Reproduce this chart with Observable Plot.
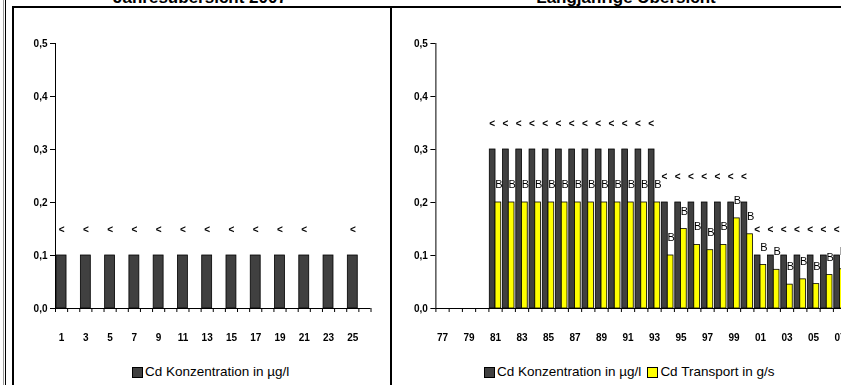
<!DOCTYPE html>
<html><head><meta charset="utf-8">
<script src="https://cdn.jsdelivr.net/npm/d3@7"></script>
<script src="https://cdn.jsdelivr.net/npm/@observablehq/plot@0.6"></script>
<style>
html,body{margin:0;padding:0;background:#fff;overflow:hidden;width:841px;height:385px;}
#wrap{position:relative;width:841px;height:385px;overflow:hidden;font-family:Arial,"Liberation Sans",sans-serif;color:#000;}
.ln{position:absolute;background:#000;}
.title{position:absolute;font-size:17px;font-weight:bold;line-height:17px;white-space:nowrap;transform:translateX(-50%);}
.legend{position:absolute;font-size:13.5px;line-height:14px;white-space:nowrap;display:flex;align-items:center;}
.sw{display:inline-block;width:9px;height:9px;border:1px solid #000;margin-right:2px;}
svg{position:absolute;top:0;will-change:transform;}
</style></head><body><div id="wrap"></div>
<script>
// ---------- data ----------
const leftTitle = "Jahresübersicht 2007";
const rightTitle = "Langjährige Übersicht";
const seriesNames = ["Cd Konzentration in µg/l", "Cd Transport in g/s"];
const seriesColors = ["#404040", "#ffff00"];

const leftCats = ["1","2","3","4","5","6","7","8","9","10","11","12","13","14","15","16","17","18","19","20","21","22","23","24","25","26"];
const leftTickLabels = ["1","3","5","7","9","11","13","15","17","19","21","23","25"];
const leftKonz = [0.1,null,0.1,null,0.1,null,0.1,null,0.1,null,0.1,null,0.1,null,0.1,null,0.1,null,0.1,null,0.1,null,0.1,null,0.1,null];
const leftFlags = ["<","","<","","<","","<","","<","","<","","<","","<","","<","","<","","<","","","","<",""];

const years = ["77","78","79","80","81","82","83","84","85","86","87","88","89","90","91","92","93","94","95","96","97","98","99","00","01","02","03","04","05","06","07"];
const yearTickLabels = ["77","79","81","83","85","87","89","91","93","95","97","99","01","03","05","07"];
const konz = [null,null,null,null,0.3,0.3,0.3,0.3,0.3,0.3,0.3,0.3,0.3,0.3,0.3,0.3,0.3,0.2,0.2,0.2,0.2,0.2,0.2,0.2,0.1,0.1,0.1,0.1,0.1,0.1,0.1];
const trans = [null,null,null,null,0.2,0.2,0.2,0.2,0.2,0.2,0.2,0.2,0.2,0.2,0.2,0.2,0.2,0.10,0.15,0.12,0.11,0.12,0.17,0.14,0.082,0.073,0.045,0.055,0.046,0.063,0.074];
const konzFlags = ["","","","","<","<","<","<","<","<","<","<","<","<","<","<","<","<","<","<","<","<","<","<","<","<","<","<","<","<","<"];
const transFlags = ["","","","","B","B","B","B","B","B","B","B","B","B","B","B","B","B","B","B","B","B","B","B","B","B","B","B","B","B","B"];

const yTicks = [0, 0.1, 0.2, 0.3, 0.4, 0.5];

// ---------- helpers ----------
const wrap = document.getElementById("wrap");
const fmt = d => d.toFixed(1).replace(".", ",");
const FONT = "Arial, 'Liberation Sans', sans-serif";

function frameLine(x, y, w, h, color) {
  const d = document.createElement("div");
  d.className = "ln";
  d.style.left = x + "px"; d.style.top = y + "px";
  d.style.width = w + "px"; d.style.height = h + "px";
  if (color) d.style.background = color;
  wrap.appendChild(d);
}
function title(text, cx) {
  const d = document.createElement("div");
  d.className = "title";
  d.textContent = text;
  d.style.left = cx + "px"; d.style.top = "-11px";
  wrap.appendChild(d);
}
function legend(items, x, y) {
  const d = document.createElement("div");
  d.className = "legend";
  d.style.left = x + "px"; d.style.top = y + "px";
  items.forEach(([name, color], k) => {
    const s = document.createElement("span");
    s.className = "sw"; s.style.background = color;
    if (k > 0) s.style.marginLeft = "6px";
    const t = document.createElement("span");
    t.textContent = name;
    d.appendChild(s); d.appendChild(t);
  });
  wrap.appendChild(d);
}

function axesMarks(cats, tickLabels) {
  const n = cats.length;
  const bounds = d3.range(n + 1).map(i => i - 0.5);
  const labelIdx = tickLabels.map(t => cats.indexOf(t));
  return [
    Plot.ruleY([0], {x1: -0.5, x2: n - 0.5, stroke: "#000"}),
    Plot.ruleX([-0.5], {y1: 0, y2: 0.5, stroke: "#000"}),
    Plot.axisY(yTicks, {label: null, tickSize: 5, tickPadding: 3, tickFormat: fmt, fontSize: 10, fontWeight: "bold", stroke: "#000"}),
    Plot.axisX(bounds, {label: null, tickSize: 4, tickFormat: () => "", stroke: "#000"}),
    Plot.axisX(labelIdx, {label: null, tickSize: 0, tickPadding: 25, tickFormat: i => cats[i], fontSize: 10, fontWeight: "bold"})
  ];
}

// ---------- frame ----------
frameLine(3, 0, 1, 385, "#9a9a9a");
frameLine(5, 0, 1, 385);
frameLine(12, 6, 2, 379);
frameLine(12, 6, 829, 2);
frameLine(390, 6, 2, 379);
title(leftTitle, 200);
title(rightTitle, 626);

// ---------- left panel ----------
const leftData = leftCats.map((c, i) => ({i, konz: leftKonz[i], flag: leftFlags[i]})).filter(d => d.konz != null);
const leftPlot = Plot.plot({
  width: 391, height: 350,
  marginLeft: 55, marginRight: 20.5, marginTop: 43, marginBottom: 42,
  x: {type: "linear", domain: [-0.5, leftCats.length - 0.5], label: null},
  y: {domain: [0, 0.5], label: null},
  style: {fontFamily: FONT, background: "transparent", overflow: "visible", color: "#000"},
  marks: [
    Plot.rect(leftData, {x1: d => d.i - 0.5, x2: d => d.i + 0.5, y1: 0, y2: "konz", fill: seriesColors[0], stroke: "#000", strokeWidth: 0.8, insetLeft: 1.1, insetRight: 1.1}),
    ...axesMarks(leftCats, leftTickLabels),
    Plot.text(leftData.filter(d => d.flag), {x: "i", y: "konz", text: "flag", dy: -26, fontSize: 10, fontWeight: "bold"})
  ]
});
leftPlot.style.left = "0px";
wrap.appendChild(leftPlot);

// ---------- right panel ----------
const rightData = years.map((y, i) => ({i, konz: konz[i], trans: trans[i], kf: konzFlags[i], tf: transFlags[i]})).filter(d => d.konz != null);
const rightPlot = Plot.plot({
  width: 460, height: 350,
  marginLeft: 44.4, marginRight: 4.85, marginTop: 43, marginBottom: 42,
  x: {type: "linear", domain: [-0.5, years.length - 0.5], label: null},
  y: {domain: [0, 0.5], label: null},
  style: {fontFamily: FONT, background: "transparent", overflow: "visible", color: "#000"},
  marks: [
    Plot.rect(rightData, {x1: d => d.i - 0.5, x2: d => d.i, y1: 0, y2: "konz", fill: seriesColors[0], stroke: "#000", strokeWidth: 0.8, insetLeft: 0.9}),
    Plot.rect(rightData, {x1: d => d.i, x2: d => d.i + 0.5, y1: 0, y2: "trans", fill: seriesColors[1], stroke: "#000", strokeWidth: 0.8, insetRight: 0.9}),
    ...axesMarks(years, yearTickLabels),
    Plot.text(rightData.filter(d => d.kf), {x: d => d.i - 0.25, y: "konz", text: "kf", dy: -26, fontSize: 10, fontWeight: "bold"}),
    Plot.text(rightData.filter(d => d.tf), {x: d => d.i + 0.25, y: "trans", text: "tf", dy: -18, fontSize: 11, fontWeight: "normal", fill: "#000"})
  ]
});
rightPlot.style.left = "391px";
wrap.appendChild(rightPlot);

// ---------- legends ----------
legend([[seriesNames[0], seriesColors[0]]], 132, 365);
legend([[seriesNames[0], seriesColors[0]], [seriesNames[1], seriesColors[1]]], 484, 365);
</script></body></html>
